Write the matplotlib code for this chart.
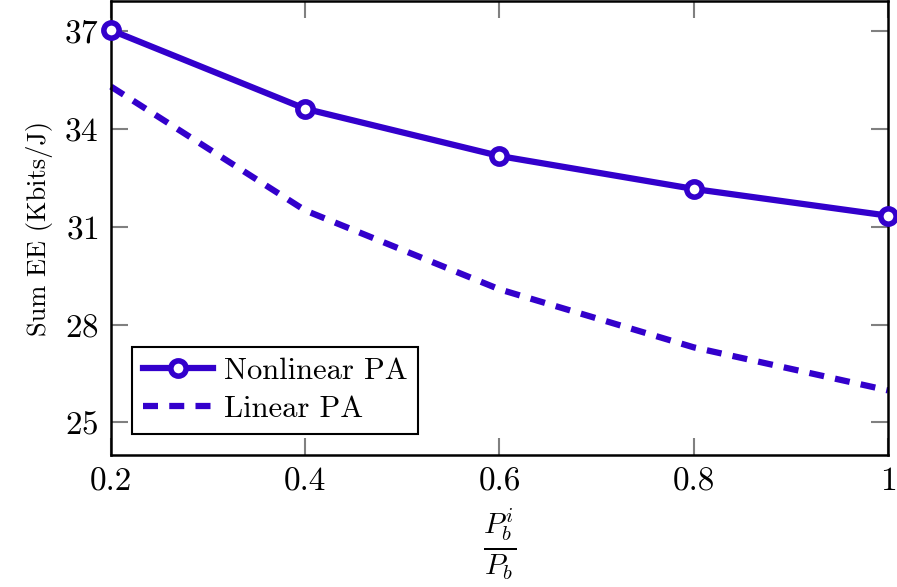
import matplotlib
matplotlib.use('Agg')
import matplotlib.pyplot as plt

plt.rcParams['font.family'] = 'cmr10'
plt.rcParams['mathtext.fontset'] = 'cm'
plt.rcParams['axes.formatter.use_mathtext'] = True

# data
ratio = [0.2, 0.4, 0.6, 0.8, 1.0]
ee_nonlinear = [37.03, 34.62, 33.17, 32.16, 31.34]
ee_linear = [35.3, 31.5, 29.08, 27.3, 25.98]
yticks = [25, 28, 31, 34, 37]
xticks = [0.2, 0.4, 0.6, 0.8, 1.0]
xticklabels = ['0.2', '0.4', '0.6', '0.8', '1']

color = '#3300cc'

fig = plt.figure(figsize=(8.97, 5.87), dpi=100)
ax = fig.add_axes([0.1237, 0.225, 0.8663, 0.773])

ax.plot(ratio, ee_nonlinear, color=color, lw=4.5, marker='o', markersize=11,
        markerfacecolor='white', markeredgewidth=4, label='Nonlinear PA',
        clip_on=False, zorder=3)
ax.plot(ratio, ee_linear, color=color, lw=4.5, dashes=(2.4, 1.8),
        label='Linear PA', clip_on=False)

ax.set_xlim(0.2, 1.0)
ax.set_ylim(24.0, 37.92)
ax.set_xticks(xticks)
ax.set_xticklabels(xticklabels)
ax.set_yticks(yticks)

ax.tick_params(direction='in', length=12, width=1.5, color='#808080',
               top=True, right=True, labelsize=24, pad=9)
for s in ax.spines.values():
    s.set_linewidth(1.8)

ax.set_ylabel('Sum EE (Kbits/J)', fontsize=19, labelpad=8)
ax.set_xlabel(r'$\frac{P_b^i}{P_b}$', fontsize=30, labelpad=7)

leg = ax.legend(loc='lower left', fontsize=22, fancybox=False, framealpha=1,
                edgecolor='black', borderaxespad=0.7, handlelength=2.3,
                handletextpad=0.35, borderpad=0.35, labelspacing=0.35)
leg.get_frame().set_linewidth(1.5)

fig.savefig('out.png', dpi=100)
